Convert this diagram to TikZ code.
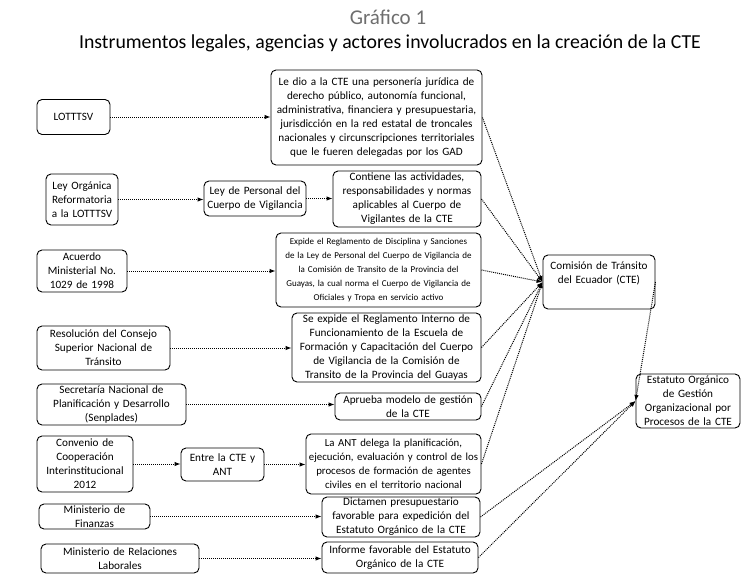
\documentclass[tikz,border=0pt]{standalone}
\usepackage{fontspec}
\setmainfont{Carlito}
\usetikzlibrary{arrows.meta}
\definecolor{Tgray}{HTML}{6E6E6E}

\begin{document}
\begin{tikzpicture}[x=1pt,y=-1pt,
  box/.style={draw,rounded corners=5pt,line width=0.9pt,fill=white,align=center,
    inner xsep=1pt,inner ysep=0.5pt,font=\fontsize{11.2}{14}\selectfont},
  link/.style={line width=1pt,dash pattern=on 1pt off 1pt,
    -{Latex[length=6pt,width=4.5pt]}}]
\useasboundingbox (0,0) rectangle (749,586);

% ---- title ----
\node[font=\fontsize{21}{24}\selectfont,text=Tgray] (title) at (388,17) {Gráfico 1};
\node[font=\fontsize{19.8}{22}\selectfont] (sub) at (390,43)
  {Instrumentos legales, agencias y actores involucrados en la creación de la CTE};

% ---- sources ----
\node[box,text width=71pt,minimum height=35pt] (lot) at (73.5,117) {LOTTTSV};
\node[box,text width=70pt,minimum height=51pt] (ley) at (82,199.5)
  {Ley Orgánica\\Reformatoria\\a la LOTTTSV};
\node[box,text width=88pt,minimum height=42pt] (acu) at (82,271)
  {Acuerdo\\Ministerial No.\\1029 de 1998};
\node[box,text width=131pt,minimum height=44pt] (res) at (103.5,348)
  {Resolución del Consejo\\Superior Nacional de\\Tránsito};
\node[box,text width=147pt,minimum height=41pt] (sen) at (111.5,404.5)
  {Secretaría Nacional de\\Planificación y Desarrollo\\(Senplades)};
\node[box,text width=94pt,minimum height=56pt] (conv) at (85,464)
  {Convenio de\\Cooperación\\Interinstitucional\\2012};
\node[box,text width=109pt,minimum height=25pt] (fin) at (94.5,516.5)
  {Ministerio de\\Finanzas};
\node[box,text width=156pt,minimum height=29pt] (rel) at (120,558.5)
  {Ministerio de Relaciones\\Laborales};

% ---- intermediate ----
\node[box,text width=100pt,minimum height=35pt] (per) at (255,198.5)
  {Ley de Personal del\\Cuerpo de Vigilancia};
\node[box,text width=81pt,minimum height=33pt] (entre) at (222.5,464.5)
  {Entre la CTE y\\ANT};

% ---- what each one does ----
\node[box,text width=209pt,minimum height=95pt] (dio) at (376.5,117.5)
  {Le dio a la CTE una personería jurídica de\\derecho público, autonomía funcional,\\
   administrativa, financiera y presupuestaria,\\jurisdicción en la red estatal de troncales\\
   nacionales y circunscripciones territoriales\\que le fueren delegadas por los GAD};
\node[box,text width=146pt,minimum height=56pt] (cont) at (407,199)
  {Contiene las actividades,\\responsabilidades y normas\\aplicables al Cuerpo de\\Vigilantes de la CTE};
\node[box,text width=203pt,minimum height=74pt,font=\fontsize{9}{14}\selectfont] (exp) at (378.5,270)
  {Expide el Reglamento de Disciplina y Sanciones\\de la Ley de Personal del Cuerpo de Vigilancia de\\
   la Comisión de Transito de la Provincia del\\Guayas, la cual norma el Cuerpo de Vigilancia de\\
   Oficiales y Tropa en servicio activo};
\node[box,text width=187pt,minimum height=69pt] (reg) at (386.5,347.5)
  {Se expide el Reglamento Interno de\\Funcionamiento de la Escuela de\\
   Formación y Capacitación del Cuerpo\\de Vigilancia de la Comisión de\\
   Transito de la Provincia del Guayas};
\node[box,text width=144pt,minimum height=27pt] (apr) at (408,406.5)
  {Aprueba modelo de gestión\\de la CTE};
\node[box,text width=173pt,minimum height=60pt,font=\fontsize{10.8}{14}\selectfont] (ant) at (393.5,464)
  {La ANT delega la planificación,\\ejecución, evaluación y control de los\\
   procesos de formación de agentes\\civiles en el territorio nacional};
\node[box,text width=156pt,minimum height=40pt] (dict) at (401,517)
  {Dictamen presupuestario\\favorable para expedición del\\Estatuto Orgánico de la CTE};
\node[box,text width=154pt,minimum height=31pt] (inf) at (400,557.5)
  {Informe favorable del Estatuto\\Orgánico de la CTE};

% ---- targets ----
\node[box,text width=110pt,minimum height=54pt] (cte) at (599,282)
  {Comisión de Tránsito\\del Ecuador (CTE)\\[4pt]\mbox{}};
\node[box,text width=102pt,minimum height=54pt] (est) at (688,401)
  {Estatuto Orgánico\\de Gestión\\Organizacional por\\Procesos de la CTE};

% ---- connectors ----
\foreach \a/\b in {lot/dio,ley/per,per/cont,acu/exp,res/reg,sen/apr,
                   conv/entre,entre/ant,fin/dict,rel/inf}
  \draw[link] (\a.east) -- (\a.east -| \b.west);
\foreach \a in {dio,cont,exp,reg,apr,ant}
  \draw[link] (\a.east) -- (cte.west);
\foreach \a in {dict,inf}
  \draw[link] (\a.east) -- (est.west);
\draw[link] (cte.east) -- (est.west);
\end{tikzpicture}
\end{document}
